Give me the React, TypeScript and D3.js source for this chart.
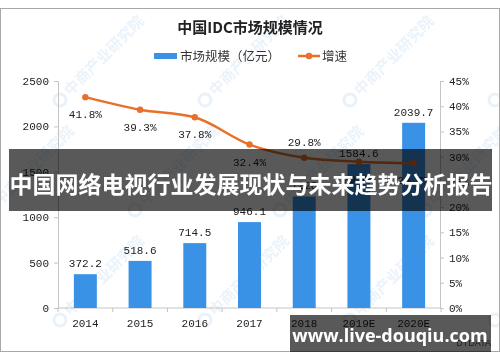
import {useEffect, useRef} from "react";
import * as d3 from 'd3'

const years = ['2014', '2015', '2016', '2017', '2018', '2019E', '2020E']
const marketSize = [372.2, 518.6, 714.5, 946.1, 1228, 1584.6, 2039.7]
const growth = [41.8, 39.3, 37.8, 32.4, 29.8, 29.0, 28.7]
const leftTicks = [0, 500, 1000, 1500, 2000, 2500]
const rightTicks = [0, 5, 10, 15, 20, 25, 30, 35, 40, 45]
// label above (-1) or below (+1) the growth point
const growthLabelSide = [1, 1, 1, 1, -1, 1, 1]

const W = 500
const H = 362
const BLUE = '#3a92e6'
const ORANGE = '#e8702a'
const MONO = '"Liberation Mono", "DejaVu Sans Mono", monospace'
const CJK = '"Noto Sans CJK SC", "Noto Sans", sans-serif'

const App = () => {
    const svgRef = useRef<SVGSVGElement>(null)

    useEffect(() => {
        const svg = d3.select(svgRef.current)
        svg.selectAll('*').remove()

        svg.append('rect').attr('width', W).attr('height', H).attr('fill', '#fff')
        svg.append('rect')
            .attr('x', 0.5).attr('y', 8.5).attr('width', W - 1).attr('height', 343)
            .attr('fill', 'none').attr('stroke', '#a8a8a8')

        // watermark (faint, clipped to the frame)
        svg.append('clipPath').attr('id', 'frame')
            .append('rect').attr('x', 1).attr('y', 9).attr('width', W - 2).attr('height', 342)
        const wm = svg.append('g').attr('clip-path', 'url(#frame)').attr('opacity', 0.14)
        const spots = [
            [60, 100], [205, 100], [350, 100], [495, 100],
            [-10, 210], [135, 210], [280, 210], [425, 210],
            [60, 320], [205, 320], [350, 320], [495, 320],
        ]
        spots.forEach(([x, y]) => {
            const g = wm.append('g').attr('transform', `translate(${x},${y}) rotate(-45)`)
            g.append('circle').attr('cx', 0).attr('cy', 0).attr('r', 6)
                .attr('fill', 'none').attr('stroke', '#5fa0dc').attr('stroke-width', 3)
            g.append('text').attr('x', 10).attr('y', 5)
                .attr('font-family', CJK).attr('font-size', 15).attr('font-weight', 'bold')
                .attr('fill', '#6aa6de').text('中商产业研究院')
        })

        const x = d3.scaleBand<string>().domain(years).range([58, 441])
            .paddingInner(0.58).paddingOuter(0.29)
        const yL = d3.scaleLinear().domain([0, 2500]).range([308, 81])
        const yR = d3.scaleLinear().domain([0, 45]).range([308, 81])

        // axes
        const axisLeft = d3.axisLeft(yL).tickValues(leftTicks).tickSize(4).tickPadding(5)
            .tickFormat(d3.format('d'))
        const gl = svg.append('g').attr('transform', 'translate(58,0)').call(axisLeft)
        const axisRight = d3.axisRight(yR).tickValues(rightTicks).tickSize(4).tickPadding(5)
            .tickFormat(d => `${d}%`)
        const gr = svg.append('g').attr('transform', 'translate(440,0)').call(axisRight)
        const gb = svg.append('g').attr('transform', 'translate(0,308)')
        gb.append('line').attr('x1', 58).attr('x2', 441).attr('stroke', '#c4c4c4')
        const step = x.step()
        d3.range(years.length + 1).forEach(i => {
            const xx = 58 + i * step
            gb.append('line').attr('x1', xx).attr('x2', xx).attr('y1', 0).attr('y2', 4).attr('stroke', '#c4c4c4')
        })
        gb.selectAll('text.yr').data(years).join('text')
            .attr('x', d => x(d)! + x.bandwidth() / 2).attr('y', 19)
            .attr('text-anchor', 'middle')
            .attr('font-family', MONO).attr('font-size', 11).attr('fill', '#222')
            .text(d => d)
        ;[gl, gr].forEach(g => {
            g.select('.domain').attr('stroke', '#c4c4c4')
            g.selectAll('.tick line').attr('stroke', '#c4c4c4')
            g.selectAll('.tick text').attr('font-family', MONO).attr('font-size', 11).attr('fill', '#222')
        })

        // bars
        svg.selectAll('rect.bar').data(marketSize).join('rect')
            .attr('class', 'bar')
            .attr('x', (d, i) => x(years[i])!)
            .attr('y', d => yL(d))
            .attr('width', x.bandwidth())
            .attr('height', d => 308 - yL(d))
            .attr('fill', BLUE)
        svg.selectAll('text.bl').data(marketSize).join('text')
            .attr('class', 'bl')
            .attr('x', (d, i) => x(years[i])! + x.bandwidth() / 2)
            .attr('y', d => yL(d) - 7)
            .attr('text-anchor', 'middle')
            .attr('font-family', MONO).attr('font-size', 11).attr('fill', '#222')
            .text(d => String(d))

        // growth line
        const cx = (i: number) => x(years[i])! + x.bandwidth() / 2
        const line = d3.line<number>()
            .x((d, i) => cx(i))
            .y(d => yR(d))
            .curve(d3.curveMonotoneX)
        svg.append('path').datum(growth)
            .attr('d', line)
            .attr('fill', 'none').attr('stroke', ORANGE).attr('stroke-width', 2.5)
        svg.selectAll('circle.pt').data(growth).join('circle')
            .attr('class', 'pt')
            .attr('cx', (d, i) => cx(i)).attr('cy', d => yR(d)).attr('r', 3.2)
            .attr('fill', ORANGE)
        svg.selectAll('text.gl').data(growth).join('text')
            .attr('class', 'gl')
            .attr('x', (d, i) => cx(i))
            .attr('y', (d, i) => yR(d) + (growthLabelSide[i] > 0 ? 21 : -12))
            .attr('text-anchor', 'middle')
            .attr('font-family', MONO).attr('font-size', 11).attr('fill', '#222')
            .text(d => `${d.toFixed(1)}%`)

        // title + legend
        svg.append('text').attr('x', 250).attr('y', 33).attr('text-anchor', 'middle')
            .attr('font-family', CJK).attr('font-size', 15).attr('font-weight', 'bold').attr('fill', '#222')
            .text('中国IDC市场规模情况')
        svg.append('rect').attr('x', 154).attr('y', 53).attr('width', 23).attr('height', 6).attr('fill', BLUE)
        svg.append('text').attr('x', 180).attr('y', 61)
            .attr('font-family', CJK).attr('font-size', 12.5).attr('fill', '#333')
            .text('市场规模（亿元）')
        svg.append('line').attr('x1', 298).attr('x2', 320).attr('y1', 56).attr('y2', 56)
            .attr('stroke', ORANGE).attr('stroke-width', 2.5)
        svg.append('circle').attr('cx', 309).attr('cy', 56).attr('r', 3.2).attr('fill', ORANGE)
        svg.append('text').attr('x', 322).attr('y', 61)
            .attr('font-family', CJK).attr('font-size', 12.5).attr('fill', '#333')
            .text('增速')

        svg.append('text').attr('x', 491).attr('y', 346).attr('text-anchor', 'end')
            .attr('font-family', '"Liberation Sans", sans-serif').attr('font-size', 9).attr('fill', '#555')
            .text('DTDATA')

        // overlays
        svg.append('rect').attr('x', 9).attr('y', 149).attr('width', 483).attr('height', 62)
            .attr('fill', 'rgba(0,0,0,0.65)')
        svg.append('text').attr('x', 251).attr('y', 193).attr('text-anchor', 'middle')
            .attr('font-family', CJK).attr('font-size', 23).attr('font-weight', 'bold').attr('fill', '#fff')
            .text('中国网络电视行业发展现状与未来趋势分析报告')
        svg.append('rect').attr('x', 290).attr('y', 315).attr('width', 201).attr('height', 37)
            .attr('fill', 'rgba(0,0,0,0.65)')
        svg.append('text').attr('x', 390).attr('y', 342).attr('text-anchor', 'middle')
            .attr('font-family', '"Open Sans", "Noto Sans", sans-serif').attr('font-size', 18).attr('font-weight', 'bold')
            .attr('fill', '#fff')
            .text('www.live-douqiu.com')
    }, [])

    return (
        <svg ref={svgRef} width={W} height={H}
             style={{position: 'absolute', left: 0, top: 0, display: 'block'}}/>
    )
}

export default App
